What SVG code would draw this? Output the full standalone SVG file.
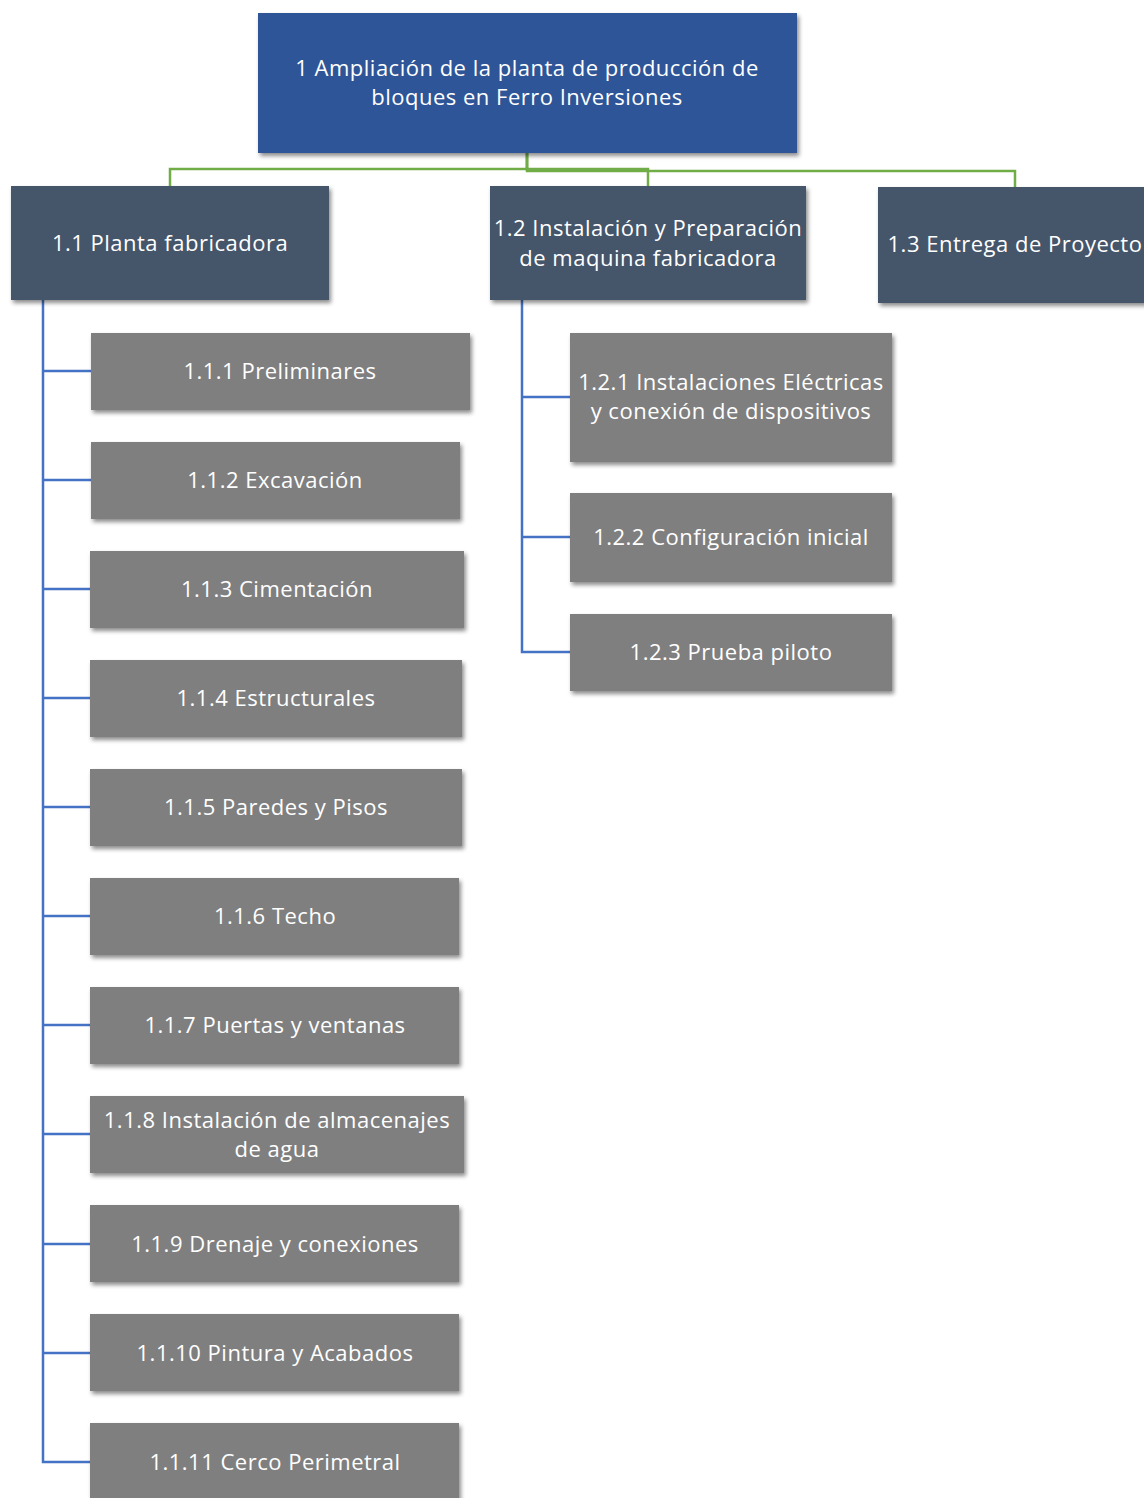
<svg xmlns="http://www.w3.org/2000/svg" width="1144" height="1498" viewBox="0 0 1144 1498">
  <defs>
    <filter id="shadow" x="-10%" y="-10%" width="125%" height="130%">
      <feDropShadow dx="2" dy="3" stdDeviation="2.2" flood-color="#000" flood-opacity="0.45"/>
    </filter>
  </defs>
  <style>
    .root { fill: #2F5597; filter: url(#shadow); }
    .lvl1 { fill: #44546A; filter: url(#shadow); }
    .lvl2 { fill: #7F7F7F; filter: url(#shadow); }
    text { font-family: "Open Sans", "Liberation Sans", Arial, sans-serif; font-size: 22px; letter-spacing: 0.5px; fill: #FFFFFF; text-anchor: middle; dominant-baseline: central; }
    .green { fill: none; stroke: #70AD47; stroke-width: 2.5; }
    .blue { fill: none; stroke: #4472C4; stroke-width: 2.5; }
  </style>
  <rect width="1144" height="1498" fill="#FFFFFF"/>

  <!-- connectors -->
  <g id="connectors">
    <path class="green" d="M527,153 V169 H170 V186"/>
    <path class="green" d="M527,153 V169 H648 V186"/>
    <path class="green" d="M527,153 V171 H1015 V187"/>
    <path class="blue" d="M43,300 V1462 H90"/>
    <path class="blue" d="M43,371 H91 M43,480 H91 M43,589 H90 M43,698 H90 M43,807 H90 M43,916 H90 M43,1025 H90 M43,1134 H90 M43,1244 H90 M43,1353 H90"/>
    <path class="blue" d="M522,300 V652 H570 M522,397 H570 M522,537 H570"/>
  </g>

  <!-- root -->
  <g id="n1">
    <rect class="root" x="258" y="13" width="539" height="140"/>
    <text x="527" y="67">1 Ampliación de la planta de producción de</text>
    <text x="527" y="96">bloques en Ferro Inversiones</text>
  </g>

  <!-- level 1 -->
  <g id="n1_1">
    <rect class="lvl1" x="11" y="186" width="318" height="114"/>
    <text x="170" y="242">1.1 Planta fabricadora</text>
  </g>
  <g id="n1_2">
    <rect class="lvl1" x="490" y="186" width="316" height="114"/>
    <text x="648" y="227">1.2 Instalación y Preparación</text>
    <text x="648" y="257">de maquina fabricadora</text>
  </g>
  <g id="n1_3">
    <rect class="lvl1" x="878" y="187" width="276" height="116"/>
    <text x="1015" y="243">1.3 Entrega de Proyecto</text>
  </g>

  <!-- level 2 under 1.1 -->
  <g id="n1_1_1">
    <rect class="lvl2" x="91" y="333" width="379" height="77"/>
    <text x="280" y="370">1.1.1 Preliminares</text>
  </g>
  <g id="n1_1_2">
    <rect class="lvl2" x="91" y="442" width="369" height="77"/>
    <text x="275" y="479">1.1.2 Excavación</text>
  </g>
  <g id="n1_1_3">
    <rect class="lvl2" x="90" y="551" width="374" height="77"/>
    <text x="277" y="588">1.1.3 Cimentación</text>
  </g>
  <g id="n1_1_4">
    <rect class="lvl2" x="90" y="660" width="372" height="77"/>
    <text x="276" y="697">1.1.4 Estructurales</text>
  </g>
  <g id="n1_1_5">
    <rect class="lvl2" x="90" y="769" width="372" height="77"/>
    <text x="276" y="806">1.1.5 Paredes y Pisos</text>
  </g>
  <g id="n1_1_6">
    <rect class="lvl2" x="90" y="878" width="369" height="77"/>
    <text x="275" y="915">1.1.6 Techo</text>
  </g>
  <g id="n1_1_7">
    <rect class="lvl2" x="90" y="987" width="369" height="77"/>
    <text x="275" y="1024">1.1.7 Puertas y ventanas</text>
  </g>
  <g id="n1_1_8">
    <rect class="lvl2" x="90" y="1096" width="374" height="77"/>
    <text x="277" y="1119">1.1.8 Instalación de almacenajes</text>
    <text x="277" y="1148">de agua</text>
  </g>
  <g id="n1_1_9">
    <rect class="lvl2" x="90" y="1205" width="369" height="77"/>
    <text x="275" y="1243">1.1.9 Drenaje y conexiones</text>
  </g>
  <g id="n1_1_10">
    <rect class="lvl2" x="90" y="1314" width="369" height="77"/>
    <text x="275" y="1352">1.1.10 Pintura y Acabados</text>
  </g>
  <g id="n1_1_11">
    <rect class="lvl2" x="90" y="1423" width="369" height="80"/>
    <text x="275" y="1461">1.1.11 Cerco Perimetral</text>
  </g>

  <!-- level 2 under 1.2 -->
  <g id="n1_2_1">
    <rect class="lvl2" x="570" y="333" width="322" height="129"/>
    <text x="731" y="381">1.2.1 Instalaciones Eléctricas</text>
    <text x="731" y="410">y conexión de dispositivos</text>
  </g>
  <g id="n1_2_2">
    <rect class="lvl2" x="570" y="493" width="322" height="89"/>
    <text x="731" y="536">1.2.2 Configuración inicial</text>
  </g>
  <g id="n1_2_3">
    <rect class="lvl2" x="570" y="614" width="322" height="77"/>
    <text x="731" y="651">1.2.3 Prueba piloto</text>
  </g>
</svg>
